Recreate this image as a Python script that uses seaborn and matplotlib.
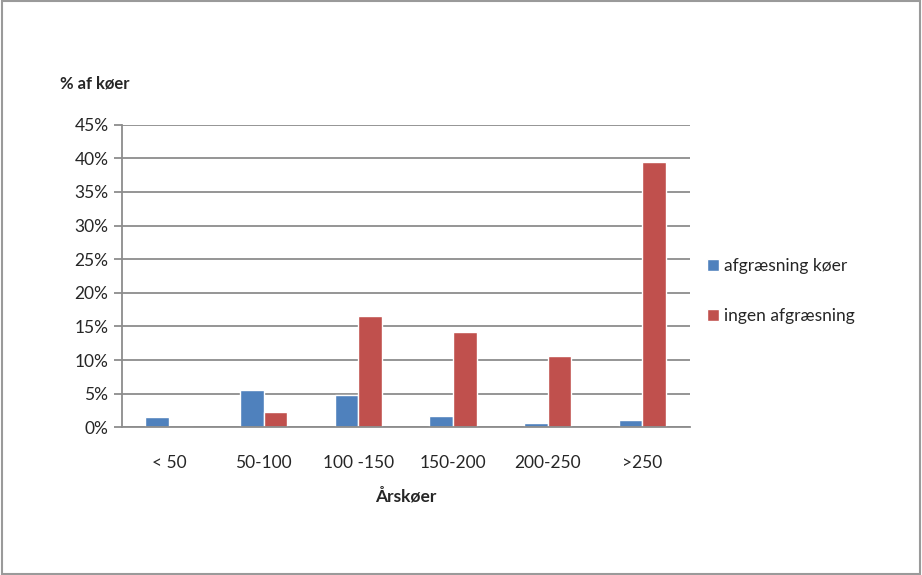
import matplotlib
matplotlib.use("Agg")
import matplotlib.pyplot as plt
import matplotlib.patches as mpatches
from matplotlib.ticker import PercentFormatter, MultipleLocator
import pandas as pd
import seaborn as sns

categories = ["< 50", "50-100", "100 -150", "150-200", "200-250", ">250"]
series_names = ["afgræsning køer", "ingen afgræsning"]
afgraesning = [1.5, 5.5, 4.8, 1.7, 0.6, 1.1]
ingen = [0.0, 2.3, 16.6, 14.1, 10.6, 39.4]

df = pd.DataFrame({
    "Årskøer": categories * 2,
    "pct": afgraesning + ingen,
    "serie": [series_names[0]] * len(categories) + [series_names[1]] * len(categories),
})

sns.set_style("white")
plt.rcParams["font.family"] = ["Lato", "DejaVu Sans"]

fig = plt.figure(figsize=(9.22, 5.75), dpi=100)
ax = fig.add_axes([0.132, 0.257, 0.616, 0.526])

sns.barplot(data=df, x="Årskøer", y="pct", hue="serie", order=categories,
            hue_order=series_names, palette=["#4F81BD", "#C0504D"],
            width=0.5, saturation=1, ax=ax, legend=True)

ax.set_ylim(0, 45)
ax.set_xlim(-0.5, len(categories) - 0.5)
ax.yaxis.set_major_locator(MultipleLocator(5))
ax.yaxis.set_major_formatter(PercentFormatter(decimals=0))
ax.grid(axis="y", color="#8c8c8c", linewidth=1.3)
ax.set_axisbelow(True)
for s in ["top", "right"]:
    ax.spines[s].set_visible(False)
for s in ["left", "bottom"]:
    ax.spines[s].set_color("#8c8c8c")
    ax.spines[s].set_linewidth(1.3)

ax.set_xticks([i - 0.5 for i in range(len(categories) + 1)], minor=True)
ax.tick_params(axis="x", which="major", length=0, labelsize=12.5, pad=20)
ax.tick_params(axis="x", which="minor", length=6, color="#8c8c8c", width=1.3, direction="out")
ax.tick_params(axis="y", length=6, color="#8c8c8c", width=1.3, direction="out",
               labelsize=12.5, left=True)

ax.set_xlabel("Årskøer", fontsize=12.5, fontweight="bold", labelpad=12)
ax.set_ylabel("")
fig.text(0.065, 0.855, "% af køer", fontsize=12, fontweight="bold", ha="left", va="center")

ax.legend(title=None, frameon=False, loc="center left", bbox_to_anchor=(1.0, 0.45),
          fontsize=12.5, handlelength=0.7, handleheight=0.7, handletextpad=0.3,
          labelspacing=2.0, borderaxespad=0.6)

fig.patches.append(mpatches.Rectangle((0.002, 0.002), 0.996, 0.996, transform=fig.transFigure,
                                      fill=False, edgecolor="#9a9a9a", linewidth=1.5))

fig.savefig("out.png", dpi=100)
